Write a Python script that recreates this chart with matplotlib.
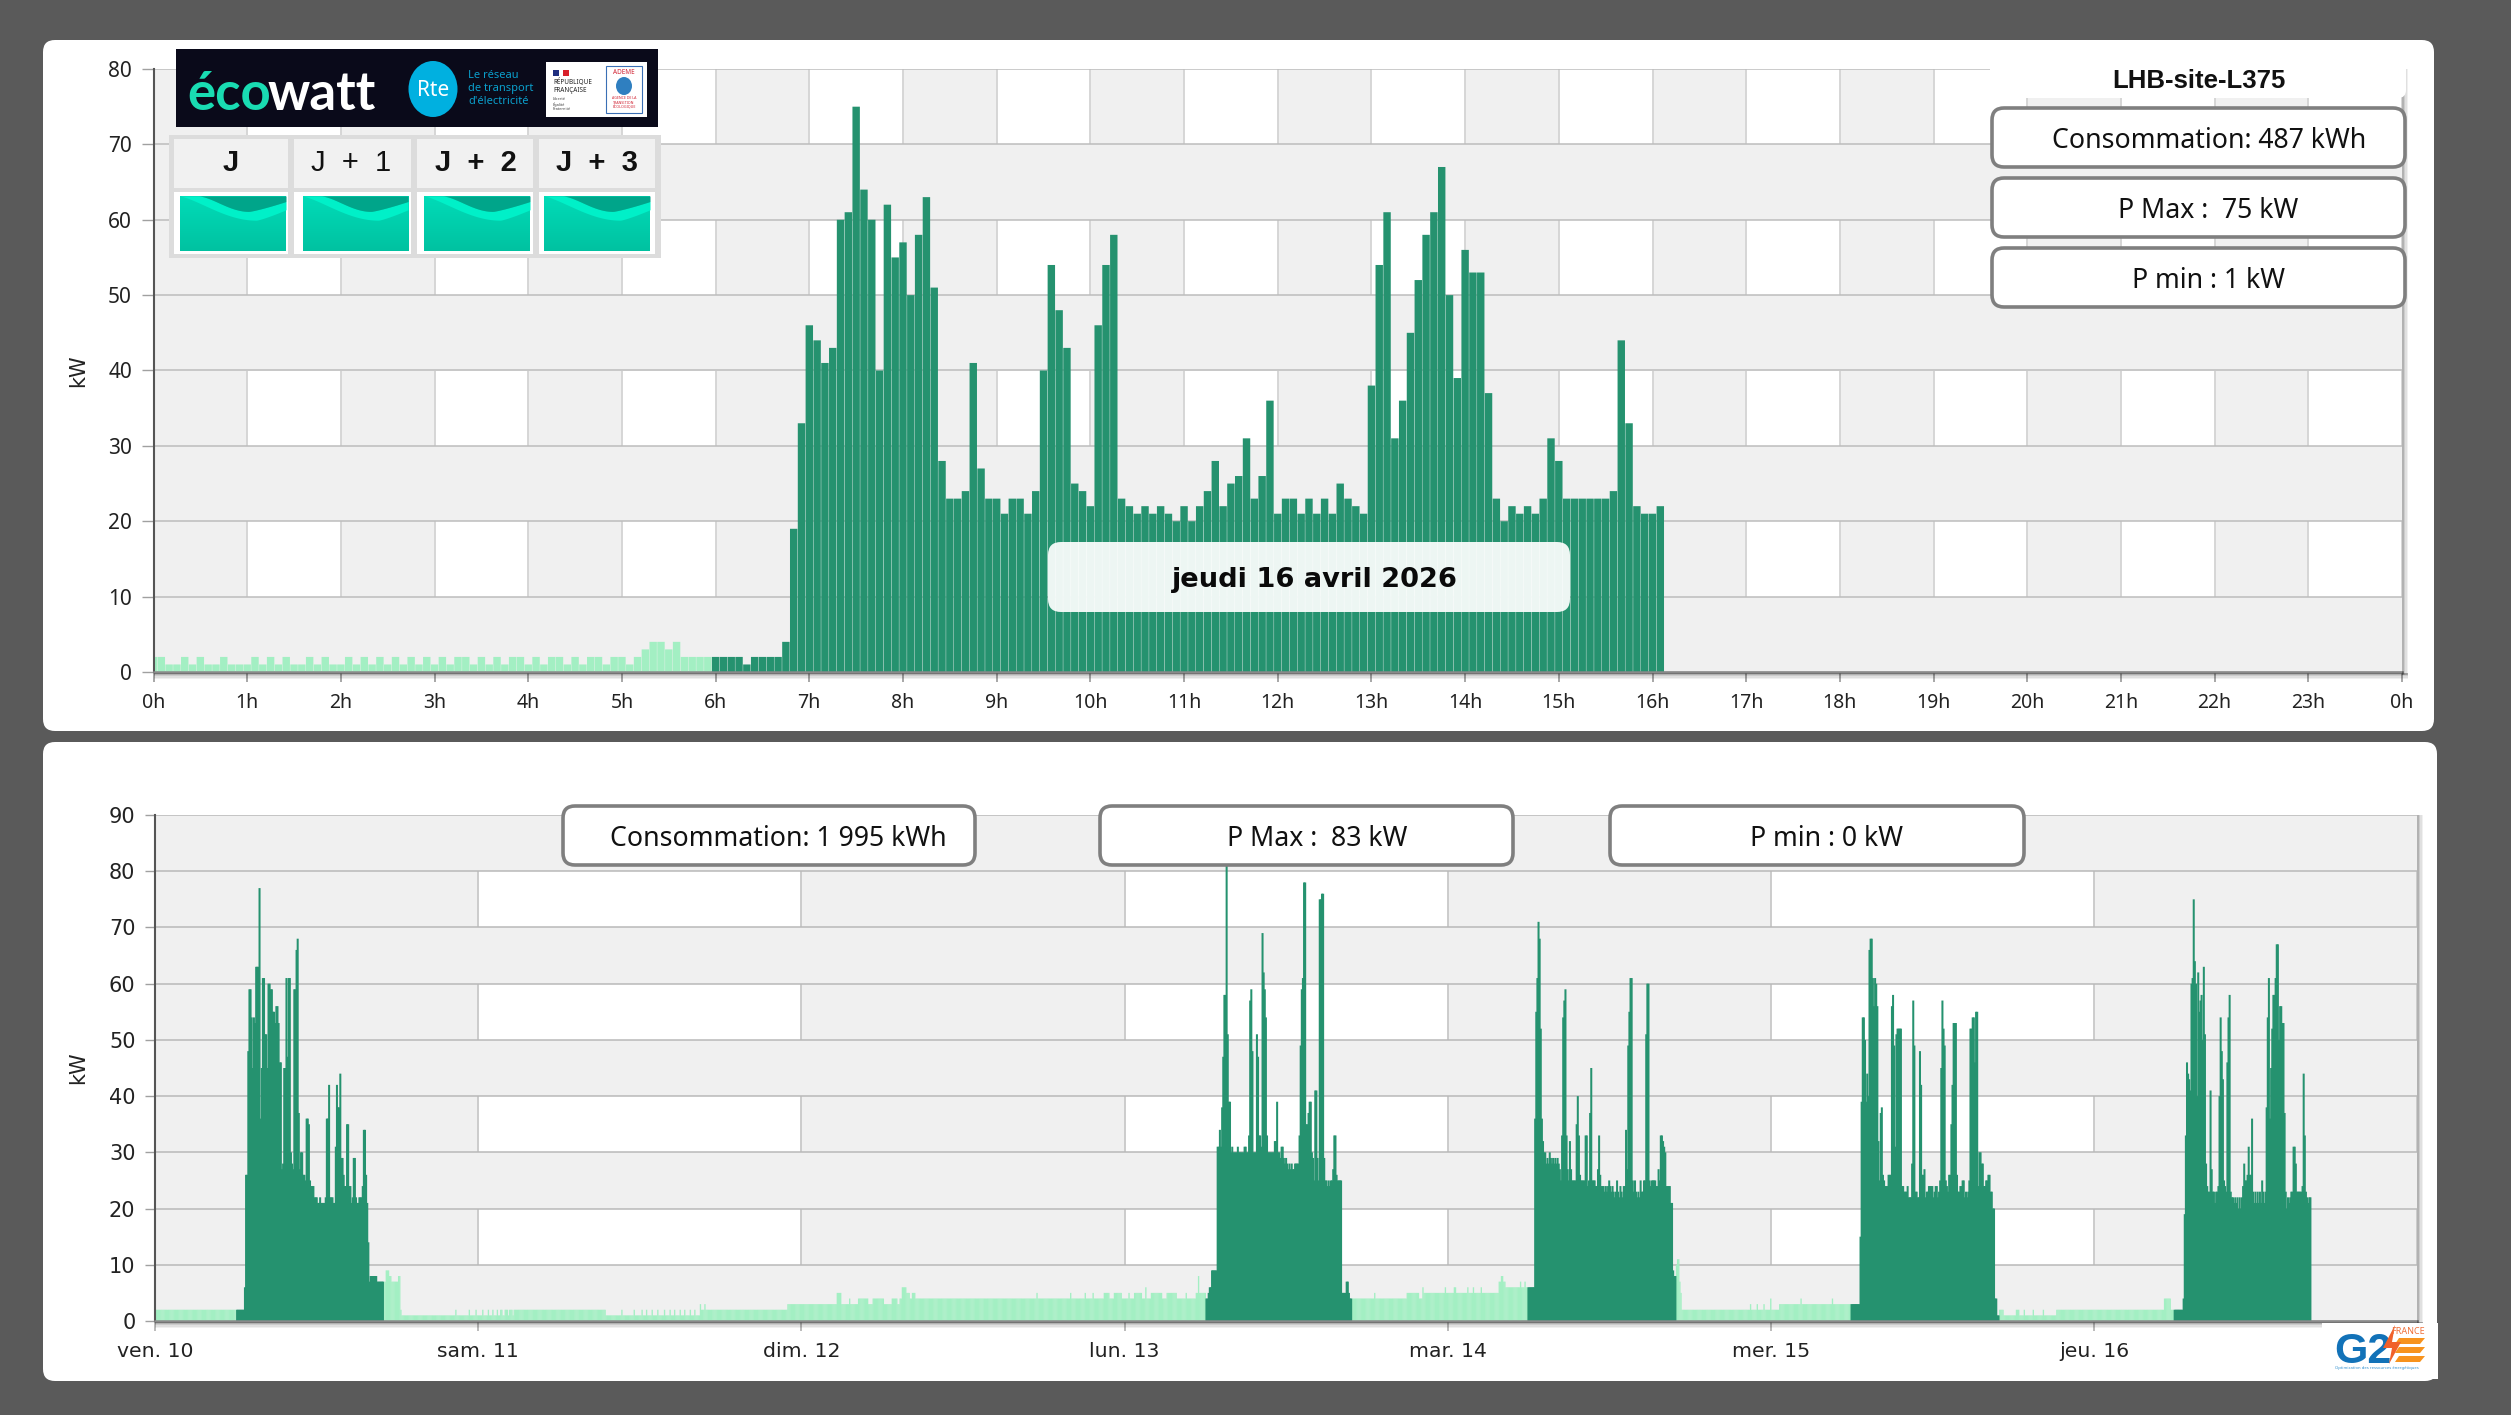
import numpy as np
import matplotlib
matplotlib.use("Agg")
import matplotlib.pyplot as plt
from matplotlib.patches import FancyBboxPatch, Rectangle, Ellipse, Polygon

W, H = 2511, 1415
plt.rcParams['font.family'] = ['Noto Sans', 'DejaVu Sans']

# ---------- top chart: 5-minute power for the current day (kW) ----------
jour_nuit = [2,2,1,1,2,1,2,1,1,2,1,1,1,2,1,2,1,2,1,1,2,1,2,1,1,2,1,2,1,2,1,2,1,2,1,2,
             1,2,1,2,2,1,2,1,2,1,2,2,1,2,1,2,2,1,2,1,2,2,1,2,2,1,2,3,4,4,3,4,2,2,2,2]
jour_actif = [2,2,2,2,1,2,2,2,2,4,19,33,46,44,41,43,60,61,75,64,60,40,62,55,57,50,58,63,51,
              28,23,23,24,41,27,23,23,21,23,23,21,24,40,54,48,43,25,24,22,46,54,58,23,22,21,
              22,21,22,21,20,22,20,22,24,28,22,25,26,31,23,26,36,21,23,23,21,23,21,23,21,25,
              23,22,21,38,54,61,31,36,45,52,58,61,67,50,39,56,53,53,37,23,20,22,21,22,21,23,
              31,28,23,23,23,23,23,23,24,44,33,22,21,21,22]
heures_labels = [f"{h}h" for h in range(24)] + ["0h"]
y_top_ticks = [0,10,20,30,40,50,60,70,80]

# ---------- bottom chart: 5-minute power over the week (kW) ----------
jours_labels = ["ven. 10","sam. 11","dim. 12","lun. 13","mar. 14","mer. 15","jeu. 16"]
y_bot_ticks = [0,10,20,30,40,50,60,70,80,90]
base_debut = [0,204,206,209,211,217,219,220,268,269,280,281,286,287,292,293,297,298,301,302,
              305,306,308,310,312,315,316,319,320,402,416,417,427,428,434,435,438,439,443,444,
              448,449,454,455,459,460,463,464,468,469,472,473,477,478,481,482,486,487,490,491,
              564,608,612,619,620,627,636,640,650,657,662,664,666,670,673,675,678,786,787,816,
              817,829,830,836,837,846,851,855,862,868,869,873,880,883,884,888,898,902,911,919,
              920,928,930,931,
              1067,1087,1088,1116,1127,1130,1131,1150,1151,1158,1160,1170,1171,1175,1176,1182,
              1183,1198,1200,1202,1204,1217,1218,1221,1222,
              1355,1357,1359,1360,1361,1422,1423,1428,1429,1434,1435,1440,1441,1448,1467,1468,
              1495,1496,
              1643,1648,1659,1662,1666,1667,1674,1675,1683,1684,1695,1791,1797,1921]
base_valeur = [2,7,9,8,7,8,2,1,2,1,2,1,2,1,2,1,2,1,2,1,
               2,1,2,1,2,1,2,1,2,1,2,1,2,1,2,1,2,1,2,1,
               2,1,2,1,2,1,2,1,2,1,2,1,2,1,2,1,3,2,3,2,
               3,5,3,4,3,4,3,4,3,4,3,4,6,5,4,5,4,5,4,5,
               4,5,4,5,4,5,4,5,4,5,4,5,4,6,4,5,4,5,4,5,
               4,5,8,5,
               4,5,4,5,4,6,5,6,5,6,5,6,5,6,5,6,
               5,7,8,7,6,7,6,7,6,
               10,11,7,5,2,3,2,3,2,3,2,4,2,3,4,3,
               4,3,
               2,1,2,1,2,1,2,1,2,1,2,4,2,0]

debut_ven = 73
bloc_ven = [2,2,2,2,2,2,2,6,26,26,48,59,59,54,45,54,53,63,63,63,77,36,45,61,61,51,51,45,60,60,
            59,59,55,55,53,56,56,53,46,46,27,28,45,45,61,47,61,61,30,28,27,59,59,66,68,37,27,30,
            30,26,26,25,36,36,35,25,24,24,24,22,22,22,21,21,22,21,21,21,21,22,36,36,42,22,22,22,
            21,21,31,42,38,38,44,29,29,26,24,24,35,35,24,24,21,22,29,29,22,21,21,22,22,22,24,34,
            34,26,21,14,7,8,8,8,8,8,8,7,7,7,7,7,7]
debut_lun = 937
bloc_lun = [4,4,5,6,6,9,9,9,9,9,31,31,34,31,38,47,58,58,83,51,39,39,30,31,30,30,30,30,31,30,30,
            30,30,30,31,31,30,30,33,57,59,48,30,30,30,51,47,33,33,31,69,62,59,54,33,30,30,30,30,
            30,30,32,32,39,30,30,29,31,31,29,28,29,28,27,28,27,28,27,27,28,28,28,28,33,49,59,61,
            78,78,35,35,37,39,39,30,29,25,41,41,29,25,75,75,76,76,29,25,25,24,25,24,25,25,27,33,
            33,26,25,25,25,25,5,5,5,5,7,7,5,4,4]
debut_mar = 1224
bloc_mar = [6,6,6,6,6,6,36,55,61,71,68,52,36,32,30,30,28,29,28,30,29,28,29,28,29,28,29,28,27,25,
            33,54,57,59,33,27,25,32,27,25,25,25,25,35,40,33,26,25,25,25,25,33,33,24,25,37,45,25,
            25,25,24,24,27,33,26,24,24,24,23,24,23,24,25,24,23,24,23,22,23,25,23,22,24,23,22,24,24,
            34,27,49,55,61,61,25,23,25,23,22,23,22,25,23,23,25,25,51,60,60,25,24,25,25,25,25,24,24,
            27,25,33,33,32,31,30,24,24,24,24,21,21,9,8,8]
debut_mer = 1512
bloc_mer = [3,3,3,3,3,3,3,3,15,39,54,54,50,39,44,40,66,68,68,61,56,61,60,56,32,25,37,38,26,25,24,
            24,24,26,26,26,56,58,49,31,51,52,52,52,52,24,24,23,23,23,24,22,22,22,28,57,49,23,23,
            22,22,48,42,26,26,27,22,23,23,24,24,24,24,22,23,24,24,22,23,25,45,57,52,49,25,24,23,
            26,26,35,42,53,53,53,26,23,23,24,24,25,25,22,23,22,23,25,52,52,54,54,46,55,55,24,30,
            30,28,28,24,24,25,25,26,26,23,23,20,20,4,4,1,1]
debut_jeu = 1800
bloc_jeu = [2,2,2,2,2,2,2,2,4,19,33,46,44,43,41,60,61,75,64,60,40,62,55,57,58,50,63,51,28,24,23,
            23,41,27,23,23,21,23,23,24,40,54,48,43,25,24,23,46,54,58,23,22,22,21,22,21,22,20,22,
            20,22,24,28,25,25,26,31,26,26,36,23,21,23,21,23,21,23,21,25,23,21,23,38,54,61,36,45,52,
            58,58,61,67,67,50,56,56,53,53,37,23,20,22,21,22,23,23,31,31,28,23,23,23,23,23,24,44,33,
            23,22,21,22,22]

VERT = '#25926f'
CLAIR = '#a3efc3'
GRIS = '#f0f0f0'

fig = plt.figure(figsize=(W/100, H/100), dpi=100, facecolor='#5a5a5a')

def px_axes(x0, y0, x1, y1, **kw):
    return fig.add_axes([x0/W, 1-y1/H, (x1-x0)/W, (y1-y0)/H], **kw)

def overlay(z):
    a = fig.add_axes([0, 0, 1, 1], zorder=z)
    a.set_xlim(0, W); a.set_ylim(H, 0); a.axis('off'); a.patch.set_visible(False)
    return a

bg = overlay(-5)
fg = overlay(10)

def rbox(a, x0, y0, x1, y1, r=10, fc='white', ec='none', lw=0, alpha=None, z=2):
    a.add_patch(FancyBboxPatch((x0, y0), x1-x0, y1-y0, boxstyle=f"round,pad=0,rounding_size={r}",
                               fc=fc, ec=ec, lw=lw, alpha=alpha, zorder=z))

rbox(bg, 43, 40, 2434, 731, r=12)
rbox(bg, 43, 742, 2437, 1381, r=12)

def style_chart(ax, xlim, ylim, vbands, vticks, yticks, yband_step, vgrid_c, hgrid_c):
    ax.set_xlim(*xlim); ax.set_ylim(*ylim)
    for a, b in vbands:
        ax.axvspan(a, b, color=GRIS, lw=0, zorder=0.1)
    for t in vticks:
        ax.axvline(t, color=vgrid_c, lw=1.4, zorder=0.2)
    for v in range(0, int(ylim[1]), 2*yband_step):
        ax.axhspan(v, v+yband_step, color=GRIS, lw=0, zorder=0.3)
    for v in yticks:
        ax.axhline(v, color=hgrid_c, lw=1.1, zorder=0.4)
    for s in ['top', 'right']:
        ax.spines[s].set_visible(False)
    ax.spines['left'].set_color('#555555'); ax.spines['left'].set_linewidth(1.5)
    ax.spines['bottom'].set_color('#8a8a8a'); ax.spines['bottom'].set_linewidth(1.8)

# ---- top chart ----
ax1 = px_axes(153.5, 69, 2402, 672)
hours = np.arange(25)
style_chart(ax1, (0, 24), (0, 80), [(h, h+1) for h in range(0, 24, 2)], hours, y_top_ticks, 10,
            '#d6d6d6', '#bdbdbd')
v_top = np.array(jour_nuit + jour_actif, dtype=float)
t_top = np.arange(len(v_top))/12
n_nuit = len(jour_nuit)
ax1.bar(t_top[:n_nuit], v_top[:n_nuit], width=0.95/12, color=CLAIR, lw=0, zorder=2, snap=False)
ax1.bar(t_top[n_nuit:], v_top[n_nuit:], width=0.95/12, color=VERT, lw=0, zorder=2, snap=False)
ax1.set_xticks(hours); ax1.set_xticklabels(heures_labels)
ax1.set_yticks(y_top_ticks)
ax1.tick_params(axis='x', length=7.2, width=1.3, color='#a0a0a0', pad=8, labelsize=14, labelcolor='#222222')
ax1.tick_params(axis='y', length=9, width=1, color='#a0a0a0', pad=6.5, labelsize=15, labelcolor='#222222')
ax1.set_ylabel("kW", fontsize=15, color='#222222', family='DejaVu Sans')
ax1.yaxis.set_label_coords((88-153.5)/(2402-153.5), 0.5)

# ---- bottom chart ----
ax2 = px_axes(155.2, 815, 2417, 1321)
days = np.arange(8)
style_chart(ax2, (0, 7), (0, 90), [(d, d+1) for d in range(0, 7, 2)], days, y_bot_ticks, 10,
            '#cccccc', '#b9b9b9')
serie = np.repeat(base_valeur, np.diff(base_debut + [2016])).astype(float)
sombre = np.zeros(2016, dtype=bool)
for debut, bloc in [(debut_ven, bloc_ven), (debut_lun, bloc_lun), (debut_mar, bloc_mar),
                    (debut_mer, bloc_mer), (debut_jeu, bloc_jeu)]:
    serie[debut:debut+len(bloc)] = bloc
    sombre[debut:debut+len(bloc)] = True
t_bot = np.arange(2016)/288
ax2.bar(t_bot[~sombre], serie[~sombre], width=1.2/288, color=CLAIR, lw=0, zorder=2, snap=False)
ax2.bar(t_bot[sombre], serie[sombre], width=1.8/288, color=VERT, lw=0, zorder=2, snap=False)
ax2.set_xticks(days[:-1]); ax2.set_xticklabels(jours_labels, family='DejaVu Sans')
ax2.set_yticks(y_bot_ticks)
ax2.set_yticklabels([str(v) for v in y_bot_ticks], family='DejaVu Sans')
ax2.tick_params(axis='x', length=7.2, width=1.1, color='#a8a8a8', pad=8, labelsize=14.7, labelcolor='#222222')
ax2.tick_params(axis='y', length=7.2, width=1, color='#a0a0a0', pad=7, labelsize=15, labelcolor='#222222')
ax2.set_ylabel("kW", fontsize=15, color='#222222', family='DejaVu Sans')
ax2.yaxis.set_label_coords((88-155.2)/(2417-155.2), 0.5)

# ---- shadows ----
for k, al in enumerate([0.30, 0.20, 0.12, 0.06]):
    for (x0, x1, ytop, ybot) in [(153.5, 2402, 69, 672), (155.2, 2417, 815, 1321)]:
        fg.add_patch(Rectangle((x1+k*1.6, ytop), 1.6, ybot-ytop+3, fc='black', alpha=al, lw=0, zorder=1))
        fg.add_patch(Rectangle((x0, ybot+1+k*1.6), x1-x0+6, 1.6, fc='black', alpha=al, lw=0, zorder=1))

# ---- info boxes ----
def info(x0, y0, x1, y1, s, xc, size=19.2):
    rbox(fg, x0, y0, x1, y1, r=12, fc='white', ec='#7f7f7f', lw=2.6, z=3)
    fg.text(xc, (y0+y1)/2+3, s, ha='center', va='center', fontsize=size, color='#111111', zorder=4)

rbox(fg, 1990, 60, 2406, 98, r=8, z=2)
fg.text(2199, 81, "LHB-site-L375", ha='center', va='center', fontsize=18.5, fontweight='bold',
        family='Liberation Sans', color='#111111', zorder=4)
info(1992, 108, 2405, 167, "Consommation: 487 kWh", 2209)
info(1992, 178, 2405, 237, "P Max :  75 kW", 2208)
info(1992, 248, 2405, 307, "P min : 1 kW", 2208)
info(563, 806, 975, 865, "Consommation: 1 995 kWh", 778)
info(1100, 806, 1513, 865, "P Max :  83 kW", 1317)
info(1610, 806, 2024, 865, "P min : 0 kW", 1827)

rbox(fg, 1048, 542, 1570, 612, r=13, fc='white', alpha=0.92, z=3)
fg.text(1315, 580, "jeudi 16 avril 2026", ha='center', va='center', fontsize=19.6, fontweight='bold',
        family='DejaVu Sans', color='#0a0a0a', zorder=4)

# ---- ecowatt banner ----
fg.add_patch(Rectangle((176, 49), 482, 78, fc='#0a0a1a', lw=0, zorder=3))
fg.text(187, 110, "éco", fontsize=38, fontweight='bold', family='Lato', color='#19dcb2', ha='left', va='baseline', zorder=4)
fg.text(268, 110, "watt", fontsize=38, fontweight='bold', family='Lato', color='white', ha='left', va='baseline', zorder=4)
fg.add_patch(Ellipse((433, 89), 49, 56, fc='#00b0e0', lw=0, zorder=4))
fg.text(433, 90, "Rte", fontsize=15, color='white', ha='center', va='center', zorder=5)
for yy, s in [(75, "Le réseau"), (88, "de transport"), (102, "d'électricité")]:
    fg.text(468, yy, s, fontsize=8, color='#0a9fcc', ha='left', va='center', zorder=5)
fg.add_patch(Rectangle((546, 62), 101, 55, fc='white', lw=0, zorder=4))
fg.add_patch(Rectangle((553, 70), 6, 6, fc='#1f2f80', lw=0, zorder=5))
fg.add_patch(Rectangle((563, 70), 6, 6, fc='#d8202a', lw=0, zorder=5))
fg.text(553, 86, "RÉPUBLIQUE\nFRANÇAISE", fontsize=4.6, fontweight='bold', color='#222222', ha='left', va='center', zorder=5, linespacing=1.1)
fg.text(553, 104, "Liberté\nÉgalité\nFraternité", fontsize=2.8, color='#444444', ha='left', va='center', zorder=5)
fg.add_patch(Rectangle((606, 66), 36, 47, fc='white', ec='#3a6fb5', lw=0.8, zorder=5))
fg.text(624, 72, "ADEME", fontsize=4.6, fontweight='bold', color='#d02030', ha='center', va='center', zorder=6)
fg.add_patch(Ellipse((624, 86), 16, 18, fc='#2f7fc0', lw=0, zorder=6))
fg.text(624, 103, "AGENCE DE LA\nTRANSITION\nÉCOLOGIQUE", fontsize=2.6, color='#d02030', ha='center', va='center', zorder=6)

# ---- J..J+3 forecast table ----
fg.add_patch(Rectangle((169, 135), 492, 123, fc='#dcdcdc', lw=0, zorder=3))
colonnes = [(174, 288), (294, 411), (417, 533), (539, 655)]
etiquettes = ["J", "J  +  1", "J  +  2", "J  +  3"]
centres = [231, 351, 476, 597]
cells = [(180, 286), (302.5, 408), (424, 530), (544, 650)]
grad = np.linspace(0, 1, 64)[:, None, None]*np.array([0, 0.76, 0.63]).reshape(1, 1, 3) + \
       (1-np.linspace(0, 1, 64)[:, None, None])*np.array([0, 0.86, 0.72]).reshape(1, 1, 3)
u = np.linspace(0, 1, 80)
for (a, b), etq, xc, (c0, c1) in zip(colonnes, etiquettes, centres, cells):
    fg.add_patch(Rectangle((a, 139), b-a, 49, fc='#f1f1f1', lw=0, zorder=4))
    fg.add_patch(Rectangle((a, 192), b-a, 62, fc='white', lw=0, zorder=4))
    fg.text(xc, 163, etq, ha='center', va='center', fontsize=21, family='Liberation Sans',
            fontweight='bold' if etq != "J  +  1" else 'normal', color='#111111', zorder=5)
    y0, y1 = 196, 251
    fg.imshow(grad, extent=(c0, c1, y1, y0), aspect='auto', zorder=5)
    low = 0.44*np.sin(np.clip(u/0.72, 0, 1)*np.pi/2)**1.3 - 0.19*np.clip((u-0.72)/0.28, 0, 1)**1.2
    high = np.where(u < 0.18, 0, 0.28*np.sin(np.clip((u-0.18)/0.47, 0, 1)*np.pi/2)**1.5) - 0.18*np.clip((u-0.65)/0.35, 0, 1)**1.2
    xs = c0+u*(c1-c0)
    fg.fill_between(xs, y0+high*(y1-y0), y0+low*(y1-y0), color='#00f0c8', lw=0, zorder=6)
    fg.fill_between(xs, y0, y0+high*(y1-y0), color='#00a58a', lw=0, zorder=6)
fg.set_xlim(0, W); fg.set_ylim(H, 0)

# ---- G2E logo ----
fg.add_patch(Rectangle((2322, 1323), 116, 56, fc='white', lw=0, zorder=3))
fg.text(2334, 1363, "G2", fontsize=31, fontweight='bold', family='Liberation Sans', color='#1272b8', ha='left', va='baseline', zorder=4)
fg.add_patch(Polygon([(2395, 1325), (2383, 1348), (2392, 1348), (2389, 1364), (2401, 1342), (2392, 1342)],
                     fc='#f0602a', lw=0, zorder=5))
for yy in (1338, 1347, 1356):
    fg.add_patch(Polygon([(2399, yy), (2425, yy), (2420, yy+6), (2395, yy+6)], fc='#f7931e', lw=0, zorder=4))
fg.text(2408, 1332, "FRANCE", fontsize=6.5, color='#f0703a', ha='center', va='center', zorder=5)
fg.text(2377, 1367.5, "Optimisation des ressources énergétiques", fontsize=3, color='#2f8fd0', ha='center', va='center', zorder=5)

fig.savefig("out.png", dpi=100, facecolor=fig.get_facecolor())
